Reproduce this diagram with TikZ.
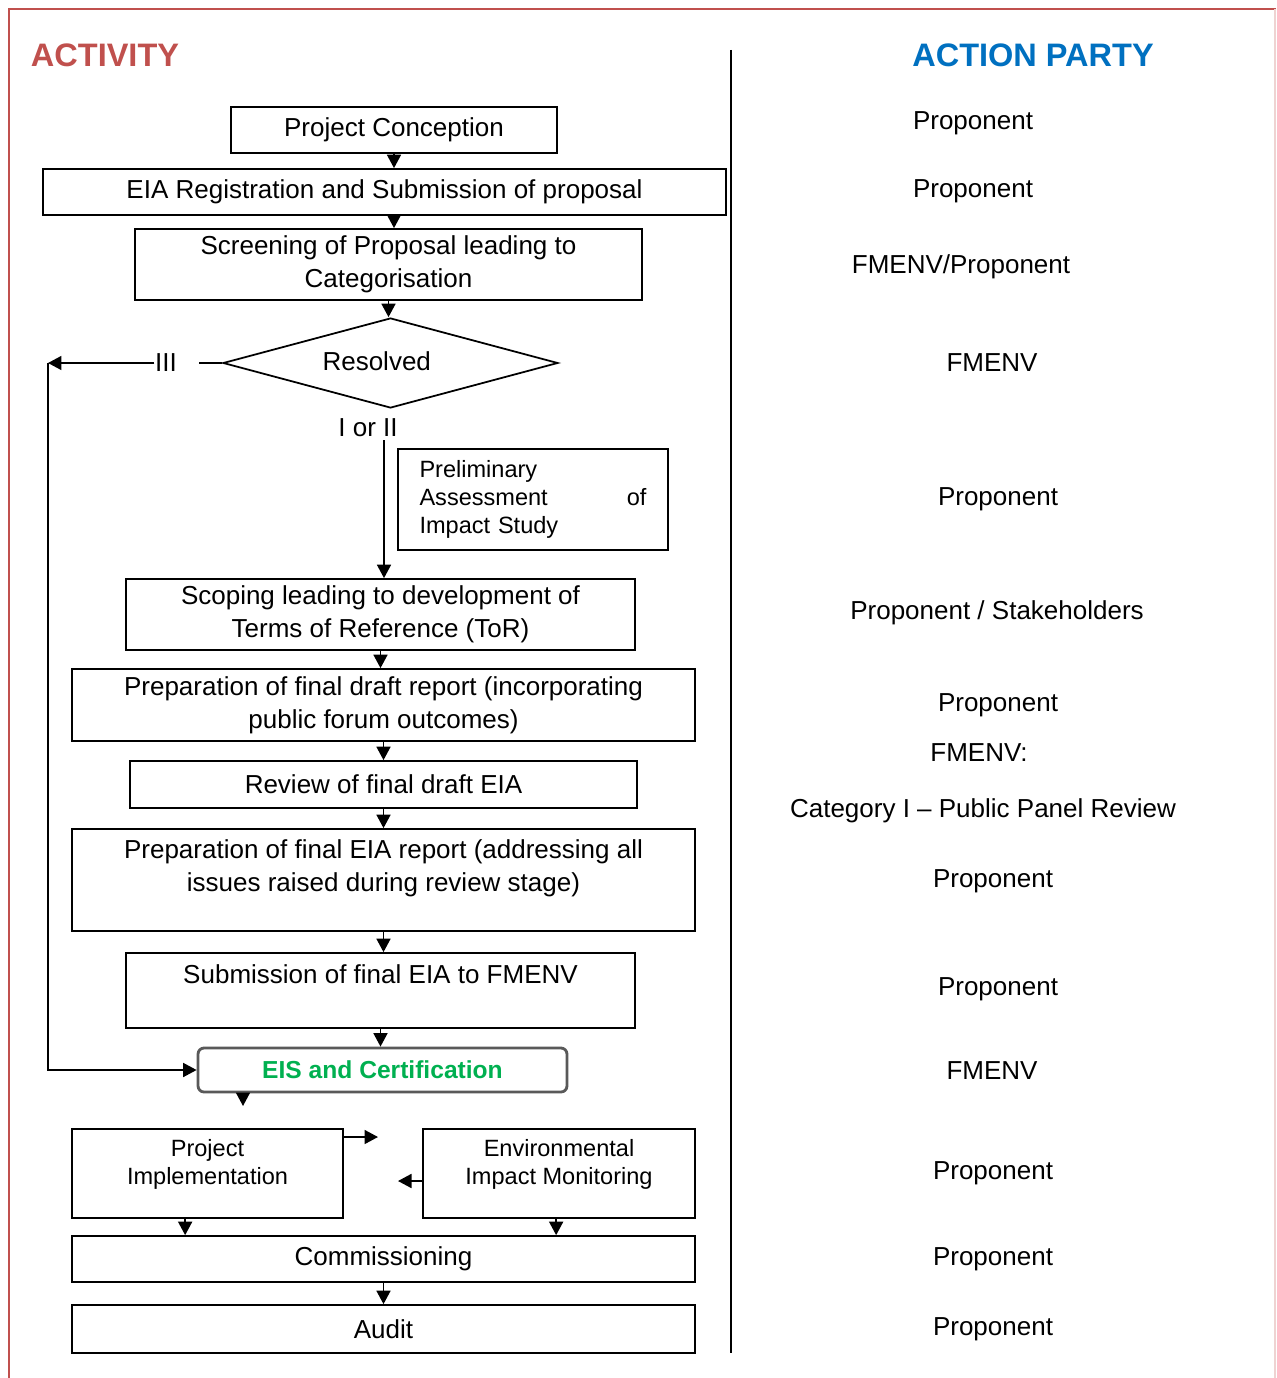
\documentclass[tikz,border=0pt]{standalone}
\usepackage{fontspec}
\setmainfont{Liberation Sans}
\usepackage{tikz}
\usetikzlibrary{shapes.geometric, positioning, arrows.meta, calc}
\definecolor{headred}{HTML}{C0504D}
\definecolor{headblue}{HTML}{0070C0}
\definecolor{certgreen}{HTML}{00B050}

\begin{document}
\begin{tikzpicture}[
  x=0.02cm, y=-0.02cm,
  font=\fontsize{14.8}{18.7}\selectfont,
  line width=1pt,
  >={Triangle[length=0.27cm,width=0.28cm]},
  box/.style={draw, inner sep=0pt, align=center},
  small/.style={font=\fontsize{13.4}{16}\selectfont},
  head/.style={font=\fontsize{18.5}{22}\selectfont\bfseries, inner sep=0pt},
  party/.style={inner sep=0pt}
]
  \useasboundingbox (0,0) rectangle (1276,1378);
  \draw[headred, line width=1.7pt] (9,1378) -- (9,9) -- (1276,9);
  \draw[headred!25, line width=0.6pt] (1275,9) -- (1275,1378);

  % column heads and divider
  \node[head, text=headred] (activity) at (105,55) {ACTIVITY};
  \node[head, text=headblue] (actionparty) at (1033,55) {ACTION PARTY};
  \draw (731,50) -- (731,1353);

  % activity boxes
  \node[box, minimum width=6.52cm, minimum height=0.92cm] (concept) at (394,130) {Project Conception};
  \node[box, minimum width=13.66cm, minimum height=0.92cm] (eia) at (384.5,192) {EIA Registration and Submission of proposal};
  \node[box, minimum width=10.14cm, minimum height=1.42cm] (screen) at (388.5,264.5) {Screening of Proposal leading to\\Categorisation};
  \node[draw, diamond, shape aspect=3.7, minimum width=6.7cm, minimum height=1.8cm, inner sep=0pt] (resolved) at (390.5,363) {\raisebox{0.08cm}{Resolved}\hspace*{0.55cm}};
  \node[inner sep=0pt] (iii) at (166,363) {III};
  \node (ior) at (368,428) {I or II};
  \node[box, small, minimum width=5.4cm, minimum height=2.02cm, text width=4.54cm, align=left] (prelim) at (533,499.5)
    {Preliminary\\Assessment\hfill of\\Impact Study};
  \node[box, minimum width=10.18cm, minimum height=1.42cm] (scope) at (380.5,614.5) {Scoping leading to development of\\Terms of Reference (ToR)};
  \node[box, minimum width=12.46cm, minimum height=1.44cm] (draft) at (383.5,705) {Preparation of final draft report (incorporating\\public forum outcomes)};
  \node[box, minimum width=10.14cm, minimum height=0.94cm] (review) at (383.5,784.5) {Review of final draft EIA};
  \node[box, minimum width=12.46cm, minimum height=2.04cm] (final) at (383.5,880) {};
  \node[inner sep=0pt, align=center, below=0.22cm of final.north] (finaltxt) {Preparation of final EIA report (addressing all\\issues raised during review stage)};
  \node[box, minimum width=10.18cm, minimum height=1.5cm] (submit) at (380.5,990.5) {};
  \node[inner sep=0pt, below=0.24cm of submit.north] (submittxt) {Submission of final EIA to FMENV};
  \node[box, draw=black!65, line width=1.6pt, rounded corners=0.12cm, minimum width=7.38cm, minimum height=0.88cm,
    text=certgreen, font=\fontsize{14}{17}\selectfont\bfseries] (cert) at (382.5,1070) {EIS and Certification};
  \node[box, minimum width=5.42cm, minimum height=1.78cm] (impl) at (207.5,1173.5) {};
  \node[small, inner sep=0pt, align=center, below=0.21cm of impl.north] (impltxt) {Project\\Implementation};
  \node[box, minimum width=5.44cm, minimum height=1.78cm] (monitor) at (559,1173.5) {};
  \node[small, inner sep=0pt, align=center, below=0.21cm of monitor.north] (monitortxt) {Environmental\\Impact Monitoring};
  \node[box, minimum width=12.46cm, minimum height=0.92cm] (commission) at (383.5,1259) {Commissioning};
  \node[box, minimum width=12.46cm, minimum height=0.96cm] (audit) at (383.5,1329) {Audit};

  % flow
  \draw[->] (concept) -- (concept |- eia.north);
  \draw[->] (eia.south -| concept) -- (concept |- screen.north);
  \draw[->] (screen) -- (screen |- resolved.north);
  \draw (resolved.west) -- ++(-23,0);
  \coordinate (loop) at (48,363);
  \draw[->] (iii.west) -- (iii.west -| loop);
  \draw[->] (loop) |- (cert.west);
  \coordinate (split) at (384,440);
  \draw[->] (split) -- (split |- scope.north);
  \draw[->] (scope) -- (scope |- draft.north);
  \draw[->] (draft) -- (draft |- review.north);
  \draw[->] (review) -- (review |- final.north);
  \draw[->] (final) -- (final |- submit.north);
  \draw[->] (submit) -- (submit |- cert.north);
  \coordinate (certout) at (243,1106);
  \draw[->] (cert.south -| certout) -- (certout);
  \coordinate (impltip) at (378,1137);
  \draw[->] (impl.east |- impltip) -- (impltip);
  \coordinate (monitortip) at (398,1181);
  \draw[->] (monitor.west |- monitortip) -- (monitortip);
  \draw[->] ($(impl.south west)+(114,0)$) coordinate (impl1) -- (impl1 |- commission.north);
  \draw[->] ($(monitor.south west)+(134,0)$) coordinate (monitor1) -- (monitor1 |- commission.north);
  \draw[->] (commission) -- (commission |- audit.north);

  % action party column
  \node[party] (p1) at (973,123) {Proponent};
  \node[party] (p2) at (973,191) {Proponent};
  \node[party] (p3) at (961,267) {FMENV/Proponent};
  \node[party] (p4) at (992,363) {FMENV};
  \node[party] (p5) at (998,499) {Proponent};
  \node[party] (p6) at (997,613) {Proponent / Stakeholders};
  \node[party] (p7) at (998,705) {Proponent};
  \node[party] (p8) at (979,753) {FMENV:};
  \node[party] (p9) at (983,811) {Category I -- Public Panel Review};
  \node[party] (p10) at (993,881) {Proponent};
  \node[party] (p11) at (998,989) {Proponent};
  \node[party] (p12) at (992,1071) {FMENV};
  \node[party] (p13) at (993,1173) {Proponent};
  \node[party] (p14) at (993,1259) {Proponent};
  \node[party] (p15) at (993,1329) {Proponent};
\end{tikzpicture}
\end{document}
